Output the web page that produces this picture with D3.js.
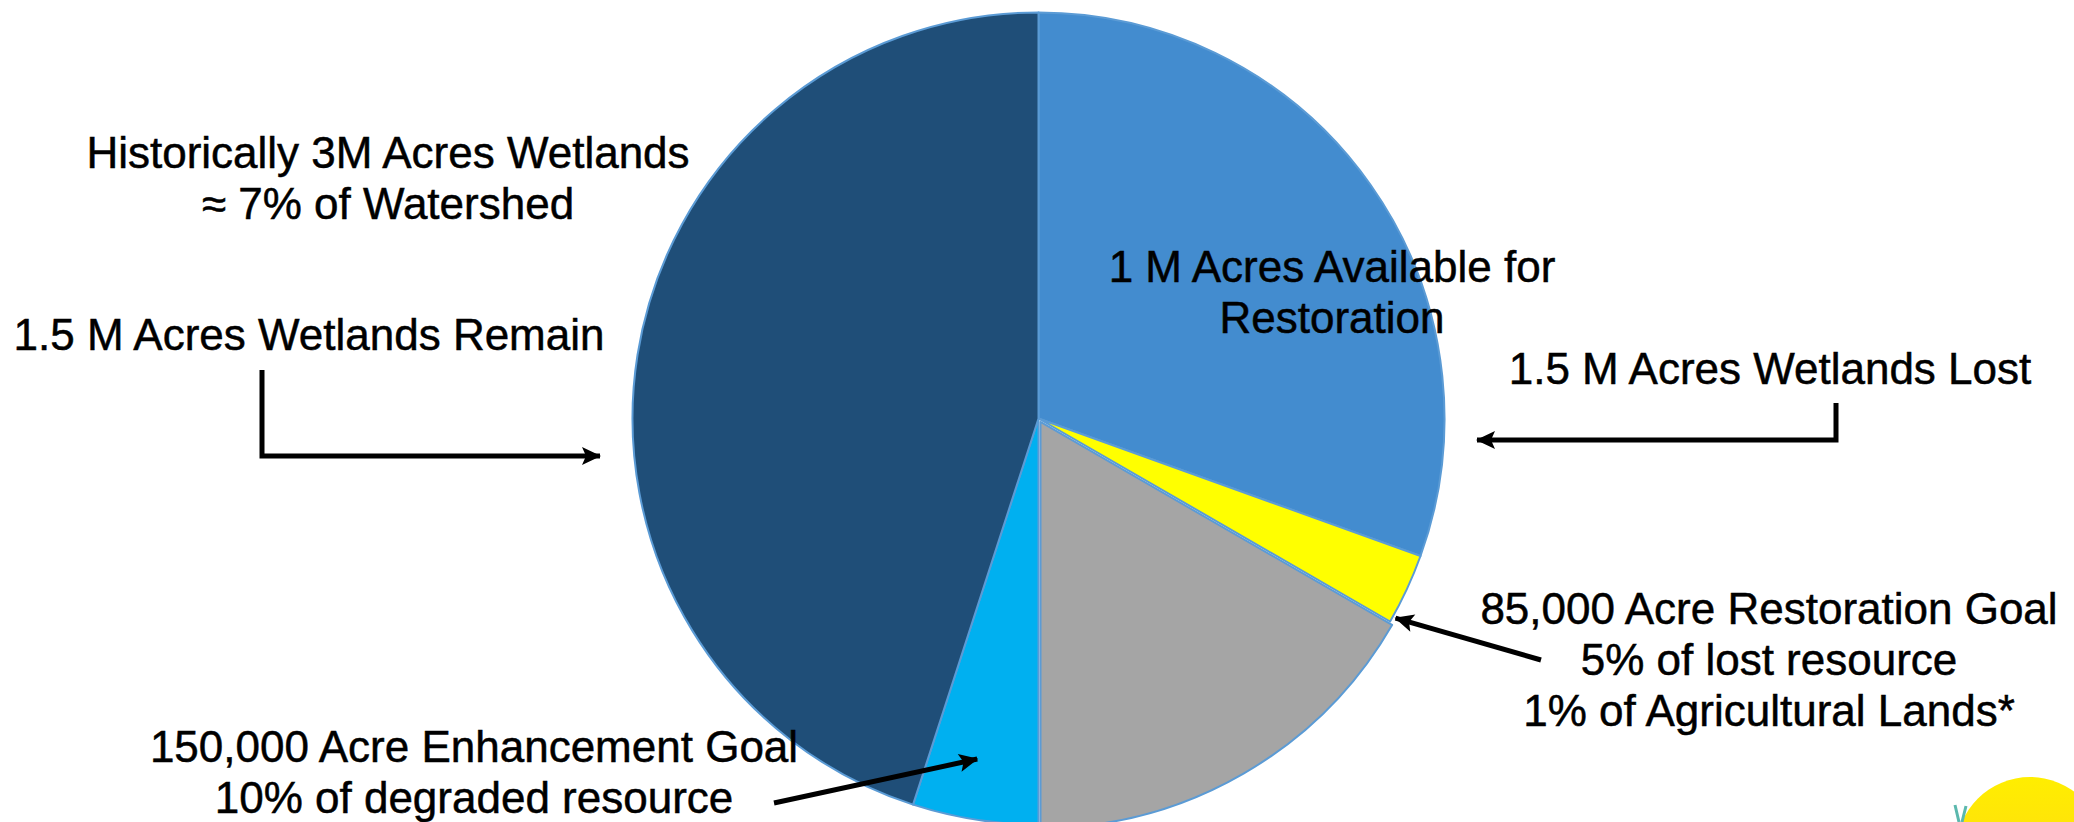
<!DOCTYPE html>
<html>
<head>
<meta charset="utf-8">
<script src="https://cdn.jsdelivr.net/npm/d3@7"></script>
<style>
  html, body { margin: 0; padding: 0; background: #ffffff; }
  svg { display: block; }
  text { font-family: "Liberation Sans", Arial, sans-serif; fill: #000000; stroke: #000000; stroke-width: 0.5px; }
</style>
</head>
<body>
<svg id="chart" width="2074" height="822"></svg>
<script>
// Wetland acreage in the watershed (acres), clockwise from 12 o'clock
const categories = [
  "Available for Restoration",
  "Restoration Goal",
  "Lost, Not Available",
  "Enhancement Goal",
  "Wetlands Remain"
];
const acres = [915000, 85000, 500000, 150000, 1350000];
const sliceColors = ["#438ccf", "#ffff00", "#a5a5a5", "#00b0f0", "#1f4e78"];

// Callout text blocks
const calloutLines = [
  ["Historically 3M Acres Wetlands", "\u2248 7% of Watershed"],
  ["1.5 M Acres Wetlands Remain"],
  ["1 M Acres Available for", "Restoration"],
  ["1.5 M Acres Wetlands Lost"],
  ["85,000 Acre Restoration Goal", "5% of lost resource", "1% of Agricultural Lands*"],
  ["150,000 Acre Enhancement Goal", "10% of degraded resource"]
];

const svg = d3.select("#chart");
const cx = 1038.5, cy = 418.5, R = 406;
const fontSize = 44, lineGap = 51;

// Small pull-out for the grey wedge
const explode = { "Lost, Not Available": 4 };

const pie = d3.pie().sort(null).value(d => d.value);
const arc = d3.arc().innerRadius(0).outerRadius(R);
const color = d3.scaleOrdinal().domain(categories).range(sliceColors);

const slices = pie(categories.map((c, i) => ({ name: c, value: acres[i] })));

const g = svg.append("g").attr("transform", `translate(${cx},${cy})`);
g.selectAll("path.slice")
  .data(slices)
  .join("path")
  .attr("class", "slice")
  .attr("d", arc)
  .attr("transform", d => {
    const k = explode[d.data.name] || 0;
    const a = (d.startAngle + d.endAngle) / 2;
    return `translate(${k * Math.sin(a)},${-k * Math.cos(a)})`;
  })
  .attr("fill", d => color(d.data.name))
  .attr("stroke", "#5b9bd5")
  .attr("stroke-width", 2)
  .attr("stroke-linejoin", "round");

// Text blocks: centre x and first baseline
const calloutPos = [
  [388, 168],
  [309, 350],
  [1332, 282],
  [1770, 384],
  [1769, 624],
  [474, 762]
];

calloutLines.forEach((lines, i) => {
  const t = svg.append("text")
    .attr("text-anchor", "middle")
    .attr("font-size", fontSize);
  lines.forEach((ln, j) => {
    t.append("tspan")
      .attr("x", calloutPos[i][0])
      .attr("y", calloutPos[i][1] + j * lineGap)
      .text(ln);
  });
});

// Arrow marker
const defs = svg.append("defs");
defs.append("marker")
  .attr("id", "head")
  .attr("viewBox", "-20 -10 22 20")
  .attr("refX", 0).attr("refY", 0)
  .attr("markerWidth", 22).attr("markerHeight", 20)
  .attr("markerUnits", "userSpaceOnUse")
  .attr("orient", "auto")
  .append("path")
  .attr("d", "M1,0 L-18,-9 L-14,0 L-18,9 Z")
  .attr("fill", "#000");

const polar = (deg, r) => {
  const a = deg * Math.PI / 180;
  return [cx + r * Math.sin(a), cy - r * Math.cos(a)];
};

// Leader lines
const leaders = [
  [[262, 370], [262, 456], [600, 456]],
  [[1836, 403], [1836, 440], [1477, 440]],
  [[1541, 660], polar(119.2, 409)],
  [[774, 803], polar(190.2, 346)]
];

const line = d3.line();
svg.selectAll("path.leader")
  .data(leaders)
  .join("path")
  .attr("class", "leader")
  .attr("d", d => line(d))
  .attr("fill", "none")
  .attr("stroke", "#000")
  .attr("stroke-width", 5)
  .attr("marker-end", "url(#head)");

// Corner emblem
const grad = defs.append("linearGradient")
  .attr("id", "sun").attr("x1", 0).attr("y1", 0).attr("x2", 0).attr("y2", 1);
grad.append("stop").attr("offset", "0%").attr("stop-color", "#ffee00");
grad.append("stop").attr("offset", "100%").attr("stop-color", "#ffd21a");
svg.append("circle")
  .attr("cx", 2030).attr("cy", 851).attr("r", 74)
  .attr("fill", "url(#sun)");
svg.append("path")
  .attr("d", "M1955,805 L1959,822 M1962,822 L1966,806")
  .attr("stroke", "#5bb8ad")
  .attr("stroke-width", 3)
  .attr("fill", "none");
</script>
</body>
</html>
